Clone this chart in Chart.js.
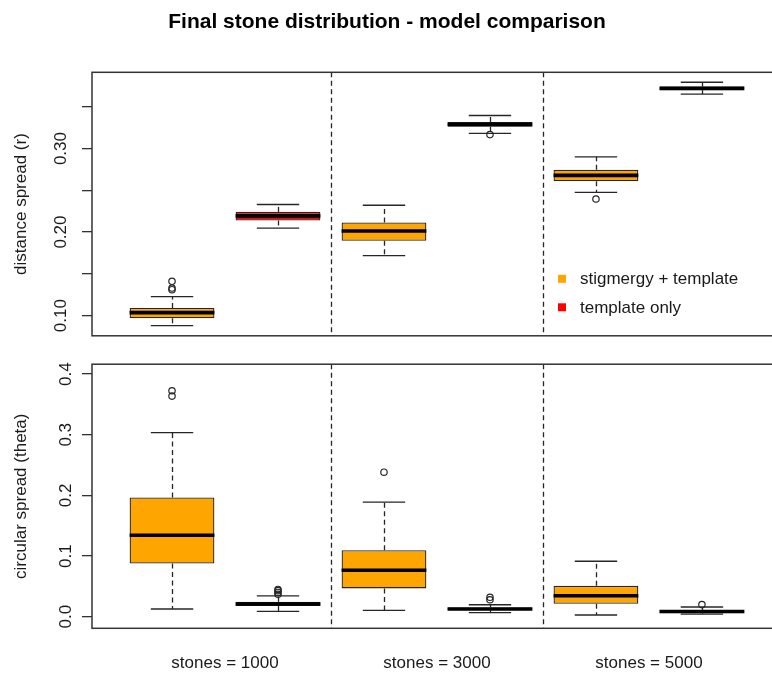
<!DOCTYPE html>
<html>
<head>
<meta charset="utf-8">
<title>Final stone distribution</title>
<script src="https://cdn.jsdelivr.net/npm/chart.js@4.4.1/dist/chart.umd.min.js"></script>
<style>
  html, body { margin: 0; padding: 0; background: #fff; overflow: hidden; }
  #wrap { position: relative; width: 772px; height: 673px; overflow: hidden; }
  canvas { position: absolute; left: 0; display: block; }
  #rChart { top: 0; }
  #thetaChart { top: 350px; }
</style>
</head>
<body>
<div id="wrap">
  <canvas id="rChart" width="774" height="350"></canvas>
  <canvas id="thetaChart" width="774" height="323"></canvas>
</div>
<script>
const groupLabels = ["stones = 1000", "stones = 3000", "stones = 5000"];
const groupCenters = [1.5, 3.5, 5.5];
const groupSplits = [2.5, 4.5];
const seriesNames = ["stigmergy + template", "template only"];
const seriesColors = ["#FFA500", "#FF0000"];
const stigPos = [1, 3, 5];
const tmplPos = [2, 4, 6];

// each box: [lower whisker, Q1, median, Q3, upper whisker]
const rStig = [
  [0.0881, 0.0968, 0.1036, 0.1092, 0.1226],
  [0.1718, 0.1896, 0.2012, 0.2115, 0.2321],
  [0.2476, 0.2607, 0.2679, 0.2746, 0.2901]
];
const rTmpl = [
  [0.2048, 0.2139, 0.2194, 0.2242, 0.2330],
  [0.3182, 0.3262, 0.3289, 0.3318, 0.3396],
  [0.3651, 0.3699, 0.3720, 0.3742, 0.3794]
];
const rStigOut = [[0.131, 0.133, 0.141], [], [0.2396]];
const rTmplOut = [[], [0.3167], []];

const thStig = [
  [0.0127, 0.0878, 0.1343, 0.1967, 0.3035],
  [0.0105, 0.0467, 0.0767, 0.1096, 0.1890],
  [0.0028, 0.0214, 0.0345, 0.0509, 0.0915]
];
const thTmpl = [
  [0.0089, 0.0176, 0.0209, 0.0247, 0.0345],
  [0.0066, 0.0105, 0.0127, 0.0154, 0.0197],
  [0.0044, 0.0056, 0.0085, 0.0110, 0.0160]
];
const thStigOut = [[0.3638, 0.3726], [0.2383], []];
const thTmplOut = [[0.037, 0.040, 0.043, 0.045], [0.028, 0.032], [0.020]];

const rTicks = [0.10, 0.15, 0.20, 0.25, 0.30, 0.35];
const rTickLabels = ["0.10", "", "0.20", "", "0.30", ""];
const thTicks = [0.0, 0.1, 0.2, 0.3, 0.4];
const thTickLabels = ["0.0", "0.1", "0.2", "0.3", "0.4"];

Chart.defaults.font.family = "'Liberation Sans', Arial, sans-serif";
Chart.defaults.font.size = 17;
Chart.defaults.color = "#1a1a1a";

const ink = "#262626";

function line(ctx, x1, y1, x2, y2) {
  ctx.beginPath();
  ctx.moveTo(x1, y1);
  ctx.lineTo(x2, y2);
  ctx.stroke();
}

// whiskers, staples, medians, separators, frame and legend
const boxDecor = {
  id: "boxDecor",
  beforeDatasetsDraw(chart, args, opts) {
    const { ctx, chartArea: a, scales: { x, y } } = chart;
    ctx.save();
    ctx.strokeStyle = ink;
    ctx.lineWidth = 1.3;
    ctx.setLineDash([5, 3.5]);
    groupSplits.forEach(v => {
      const px = Math.round(x.getPixelForValue(v)) + 0.5;
      line(ctx, px, a.top, px, a.bottom);
    });
    opts.boxes.forEach(b => {
      const cx = Math.round(x.getPixelForValue(b.x)) + 0.5;
      const [lo, q1, , q3, hi] = b.s;
      ctx.setLineDash([5, 3.5]);
      line(ctx, cx, y.getPixelForValue(q3), cx, y.getPixelForValue(hi));
      line(ctx, cx, y.getPixelForValue(q1), cx, y.getPixelForValue(lo));
      ctx.setLineDash([]);
      const x1 = x.getPixelForValue(b.x - 0.2);
      const x2 = x.getPixelForValue(b.x + 0.2);
      line(ctx, x1, y.getPixelForValue(hi), x2, y.getPixelForValue(hi));
      line(ctx, x1, y.getPixelForValue(lo), x2, y.getPixelForValue(lo));
    });
    ctx.restore();
  },
  afterDatasetsDraw(chart, args, opts) {
    const { ctx, scales: { x, y } } = chart;
    ctx.save();
    ctx.strokeStyle = "#000";
    ctx.lineWidth = 3.6;
    ctx.lineCap = "butt";
    opts.boxes.forEach(b => {
      const my = y.getPixelForValue(b.s[2]);
      line(ctx, x.getPixelForValue(b.x - 0.4), my, x.getPixelForValue(b.x + 0.4), my);
    });
    ctx.restore();
  },
  afterDraw(chart, args, opts) {
    const { ctx, chartArea: a } = chart;
    ctx.save();
    ctx.strokeStyle = "#333";
    ctx.lineWidth = 1.5;
    ctx.strokeRect(a.left, a.top, a.right - a.left, a.bottom - a.top);
    if (opts.legend) {
      ctx.font = "17px 'Liberation Sans', Arial, sans-serif";
      ctx.textBaseline = "middle";
      ctx.textAlign = "left";
      seriesNames.forEach((name, i) => {
        const ly = a.bottom - 57 + i * 28.5;
        const lx = a.right - 212;
        ctx.fillStyle = seriesColors[i];
        ctx.fillRect(lx - 4, ly - 4, 8, 8);
        ctx.fillStyle = "#1a1a1a";
        ctx.fillText(name, lx + 18, ly + 1);
      });
    }
    ctx.restore();
  }
};

function buildPanel(canvasId, cfg) {
  const boxes = [];
  stigPos.forEach((p, i) => boxes.push({ x: p, s: cfg.stig[i] }));
  tmplPos.forEach((p, i) => boxes.push({ x: p, s: cfg.tmpl[i] }));

  const outliers = [];
  cfg.stigOut.forEach((vals, i) => vals.forEach(v => outliers.push({ x: stigPos[i], y: v })));
  cfg.tmplOut.forEach((vals, i) => vals.forEach(v => outliers.push({ x: tmplPos[i], y: v })));

  const barStyle = {
    borderColor: ink,
    borderWidth: 1.3,
    borderSkipped: false,
    grouped: false,
    barPercentage: 0.8,
    categoryPercentage: 1
  };

  return new Chart(document.getElementById(canvasId), {
    type: "bar",
    data: {
      datasets: [
        Object.assign({
          label: seriesNames[0],
          data: stigPos.map((p, i) => ({ x: p, y: [cfg.stig[i][1], cfg.stig[i][3]] })),
          backgroundColor: seriesColors[0]
        }, barStyle),
        Object.assign({
          label: seriesNames[1],
          data: tmplPos.map((p, i) => ({ x: p, y: [cfg.tmpl[i][1], cfg.tmpl[i][3]] })),
          backgroundColor: seriesColors[1]
        }, barStyle),
        {
          type: "scatter",
          label: "outliers",
          data: outliers,
          pointStyle: "circle",
          pointRadius: 3.2,
          borderWidth: 1.2,
          borderColor: ink,
          backgroundColor: "rgba(0,0,0,0)"
        }
      ]
    },
    options: {
      responsive: false,
      animation: false,
      layout: { padding: cfg.padding, autoPadding: false },
      plugins: {
        legend: { display: false },
        tooltip: { enabled: false },
        title: cfg.title,
        boxDecor: { boxes: boxes, legend: cfg.legend }
      },
      scales: {
        x: {
          type: "linear",
          offset: false,
          min: 0.245,
          max: 6.68,
          display: cfg.showGroups,
          afterBuildTicks: s => { s.ticks = groupCenters.map(v => ({ value: v })); },
          afterFit: s => { if (cfg.showGroups) s.height = 44.7; },
          grid: { display: false, drawTicks: false, offset: false },
          border: { display: false },
          ticks: {
            autoSkip: false,
            maxRotation: 0,
            padding: 25,
            callback: (v, i) => groupLabels[i]
          }
        },
        y: {
          type: "linear",
          min: cfg.yMin,
          max: cfg.yMax,
          afterBuildTicks: s => { s.ticks = cfg.ticks.map(v => ({ value: v })); },
          afterFit: s => { s.width = 92; },
          grid: { drawOnChartArea: false, drawTicks: true, tickLength: 10, color: "#333", lineWidth: 1.3 },
          border: { display: false },
          ticks: {
            autoSkip: false,
            minRotation: 90,
            maxRotation: 90,
            crossAlign: "center",
            padding: 4,
            callback: (v, i) => cfg.tickLabels[i]
          },
          title: {
            display: true,
            text: cfg.yTitle,
            padding: { top: 10.8, bottom: 0 }
          }
        }
      }
    },
    plugins: [boxDecor]
  });
}

buildPanel("rChart", {
  stig: rStig, tmpl: rTmpl, stigOut: rStigOut, tmplOut: rTmplOut,
  yMin: 0.0758, yMax: 0.3913,
  ticks: rTicks, tickLabels: rTickLabels,
  yTitle: "distance spread (r)",
  legend: true,
  showGroups: false,
  padding: { left: 0, right: 0, top: 0, bottom: 12.7 },
  title: {
    display: true,
    text: "Final stone distribution - model comparison",
    color: "#000",
    font: { size: 21, weight: "bold" },
    padding: { top: 9.4, bottom: 37.7 }
  }
});

buildPanel("thetaChart", {
  stig: thStig, tmpl: thTmpl, stigOut: thStigOut, tmplOut: thTmplOut,
  yMin: -0.0191, yMax: 0.4164,
  ticks: thTicks, tickLabels: thTickLabels,
  yTitle: "circular spread (theta)",
  legend: false,
  showGroups: true,
  padding: { left: 0, right: 0, top: 13.3, bottom: 0 },
  title: { display: false }
});
</script>
</body>
</html>
